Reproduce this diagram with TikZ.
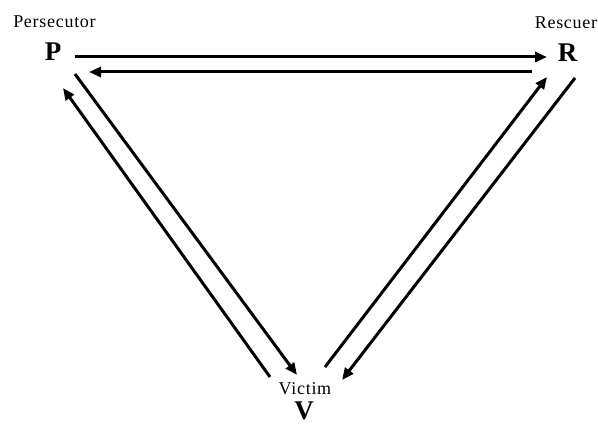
\documentclass[tikz,border=0pt]{standalone}
\usepackage{fontspec}
\setmainfont{Liberation Serif}
\usetikzlibrary{arrows.meta}
\begin{document}
\begin{tikzpicture}[x=1pt,y=-1pt,
  conn/.style={line width=3pt,-{Triangle[length=12pt,width=10pt]}},
  small/.style={font=\fontsize{18}{20}\selectfont\addfontfeature{LetterSpace=4},inner sep=0pt},
  big/.style={font=\fontsize{27}{29}\selectfont\bfseries,inner sep=0pt}]
\useasboundingbox (0,0) rectangle (598,427);
\fill[white] (0,0) rectangle (598,427);
\node[small] (pl) at (54.5,22) {Persecutor};
\node[big] (P) at (53,52) {P};
\node[small] (rl) at (566,23) {Rescuer};
\node[big] (R) at (567.5,53) {R};
\node[small] (vl) at (305,389) {Victim};
\node[big] (V) at (304,411) {V};
% endpoints
\coordinate (a1) at (75,57);  \coordinate (a2) at (547,57);
\coordinate (b1) at (532,72); \coordinate (b2) at (89,72);
\coordinate (c1) at (75,74);  \coordinate (c2) at (297,375);
\coordinate (d1) at (270,377);\coordinate (d2) at (63,88);
\coordinate (e1) at (325,367);\coordinate (e2) at (547,77);
\coordinate (f1) at (575,78); \coordinate (f2) at (342,380);
\draw[conn] (a1) -- (a2);
\draw[conn] (b1) -- (b2);
\draw[conn] (c1) -- (c2);
\draw[conn] (d1) -- (d2);
\draw[conn] (e1) -- (e2);
\draw[conn] (f1) -- (f2);
\end{tikzpicture}
\end{document}
